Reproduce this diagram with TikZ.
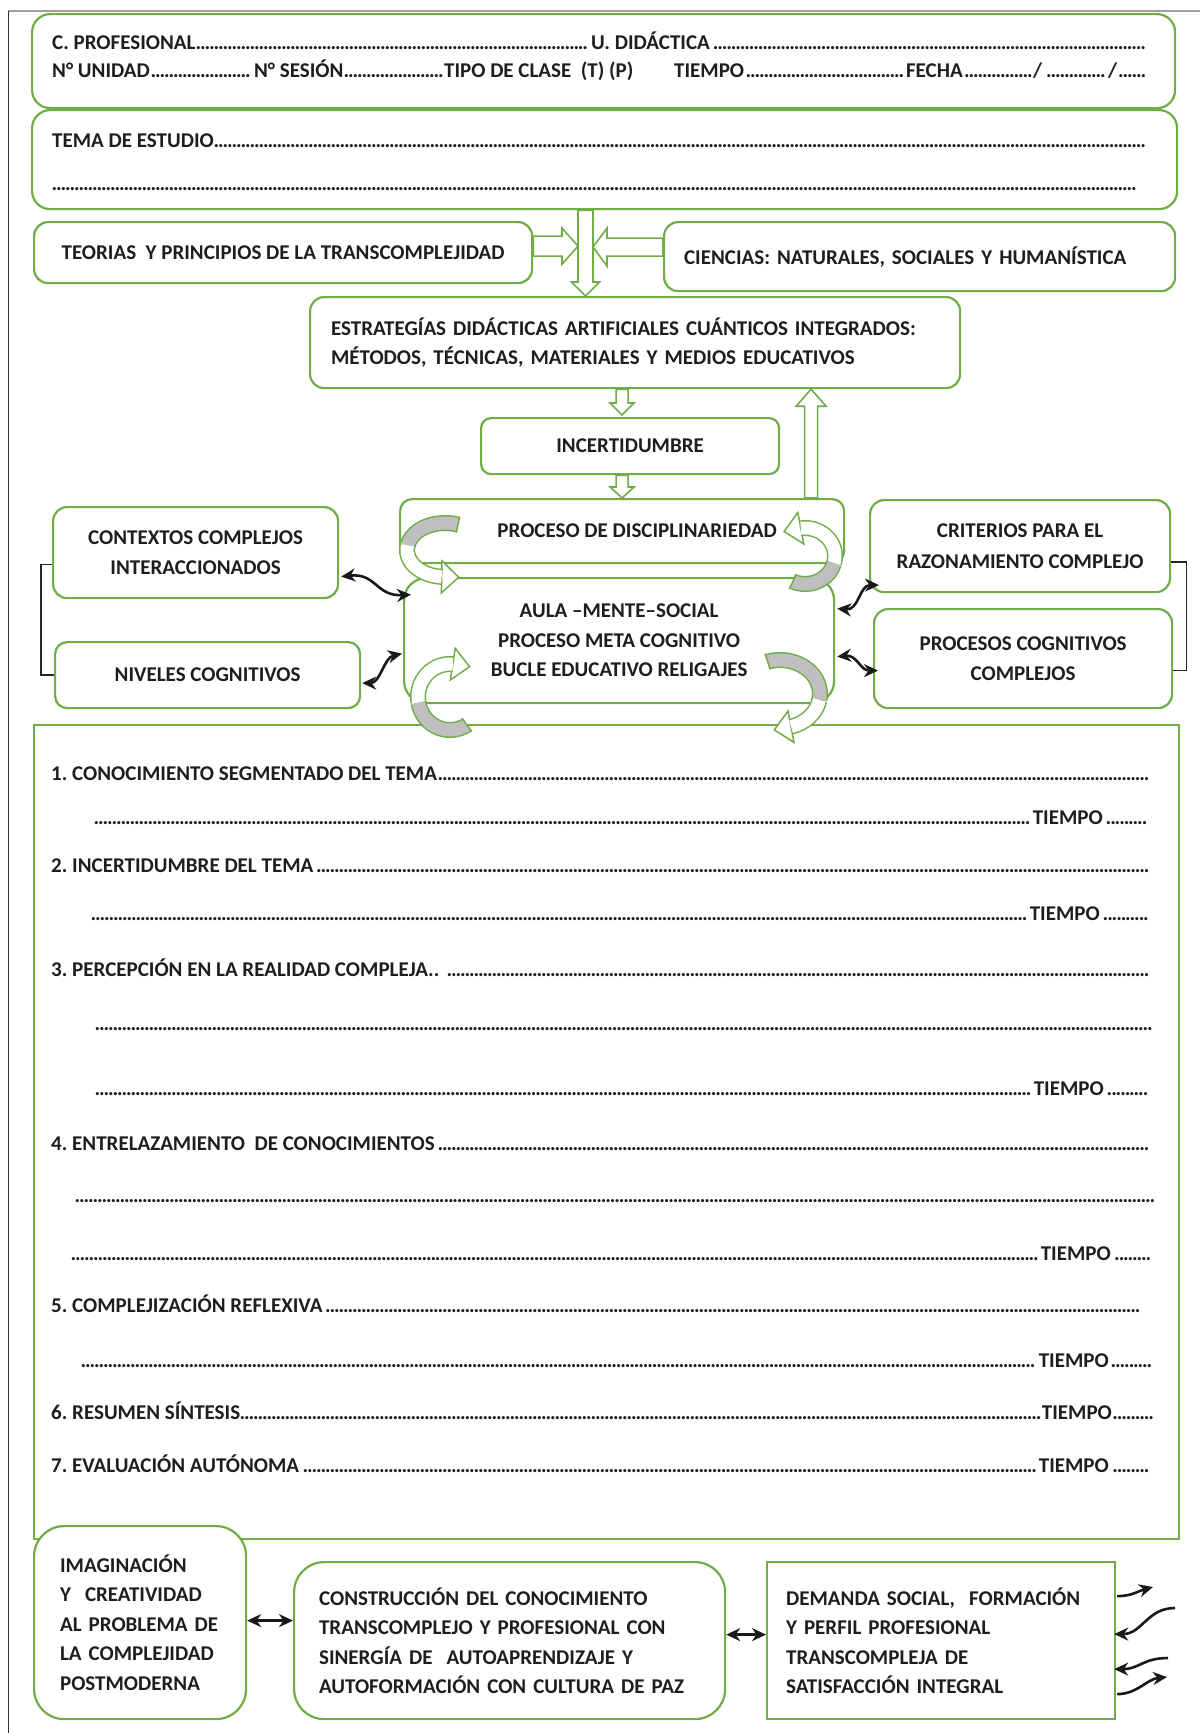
\documentclass[tikz,border=0pt]{standalone}
\usepackage{fontspec}
\setmainfont{Carlito}
\usetikzlibrary{calc,arrows.meta}
\definecolor{grn}{HTML}{70AD47}
\definecolor{txt}{HTML}{1E1E1E}
\definecolor{rgray}{HTML}{BFBFBF}
\frenchspacing
\newcommand\txtfont{\bfseries\fontsize{21}{29.5}\selectfont}
% dense dotted leader used on the form lines
\newcommand\dotlead{\leaders\hbox to 4.5pt{\hss.\hss}\hfill}
% hollow block arrow: start, end, shaft half width, head half width, head length
\newcommand\gbarrow[5]{%
  \coordinate (bH) at ($(#2)!#5pt!(#1)$);
  \draw[barrowst] ($(#1)!#3pt!90:(#2)$) -- ($(bH)!#3pt!90:(#2)$) -- ($(bH)!#4pt!90:(#2)$) -- (#2)
    -- ($(bH)!#4pt!-90:(#2)$) -- ($(bH)!#3pt!-90:(#2)$) -- ($(#1)!#3pt!-90:(#2)$) -- cycle;}
% curved ribbon in two parts: centre, rx, ry, start, switch, end, first fill, second fill
\newcommand\gribbon[8]{%
  \draw[rib, double=#7] ($(#1)+(#4:#2 and #3)$) arc[start angle=#4, end angle=#5, x radius=#2, y radius=#3];
  \draw[rib, double=#8] ($(#1)+(#5:#2 and #3)$) arc[start angle=#5, end angle=#6, x radius=#2, y radius=#3];}
% open head of a curved ribbon: centre, rx, ry, base angle, angle it points to
\newcommand\ghead[5]{%
  \coordinate (hE) at ($(#1)+(#4:#2 and #3)$);
  \coordinate (hF) at ($(#1)+(#5:#2 and #3)$);
  \draw[rhd] ($(hE)!16pt!90:(hF)$) -- ($(hE)!17pt!(hF)$) -- ($(hE)!16pt!-90:(hF)$) -- cycle;}
% flat closing edge of a ribbon end
\newcommand\gend[5]{%
  \coordinate (hE) at ($(#1)+(#4:#2 and #3)$);
  \coordinate (hF) at ($(#1)+(#5:#2 and #3)$);
  \draw[grn, line width=1.5pt] ($(hE)!8.2pt!90:(hF)$) -- ($(hE)!8.2pt!-90:(hF)$);}

\begin{document}
\begin{tikzpicture}[x=1pt, y=-1pt,
  every node/.style={font=\txtfont, text=txt},
  gbox/.style={draw=grn, line width=2.2pt, rounded corners=#1, fill=white, inner sep=0pt, anchor=north west},
  gbox/.default=14pt,
  txtline/.style={anchor=base west, inner sep=0pt},
  barrowst/.style={draw=grn, line width=1.6pt, fill=white, line join=miter},
  rib/.style={draw=grn, line width=1.5pt, double distance=13pt},
  rhd/.style={draw=grn, line width=1.5pt, fill=white, line join=miter},
  conn/.style={draw=black!90, line width=2.6pt},
  twohead/.style={{Stealth[length=14pt,width=13pt]}-{Stealth[length=14pt,width=13pt]}},
  onehead/.style={-{Stealth[length=14pt,width=13pt]}},
  brk/.style={draw=black!85, line width=1.3pt}]
\useasboundingbox (0,0) rectangle (1200,1733);

% page frame
\draw[gray!75, line width=2pt] (8,11) -- (1200,11);
\draw[black!80, line width=0.9pt] (8,11) -- (8,1733);

% header
\node[gbox=18pt, minimum width=1143pt, minimum height=94pt] (hdr) at (31,13) {};
\node[txtline] (h1) at (52,49) {\hbox to 1097pt{\hbox to 539pt{C. PROFESIONAL\dotlead}U. DIDÁCTICA\dotlead}};
\node[txtline] (h2) at (52,77) {\hbox to 1097pt{\hbox to 202pt{N° UNIDAD\dotlead}\hbox to 190pt{N° SESIÓN\dotlead}\hbox to 230pt{TIPO DE CLASE\ \ (T) (P)\hfil}\hbox to 232pt{TIEMPO\dotlead}\hbox to 127pt{FECHA\dotlead}\hbox to 75pt{/\dotlead}/\dotlead}};

\node[gbox=18pt, minimum width=1145pt, minimum height=99pt] (tema) at (31,109) {};
\node[txtline] (t1) at (52,147) {\hbox to 1097pt{TEMA DE ESTUDIO\dotlead}};
\node[txtline] (t2) at (52,190) {\hbox to 1086pt{\dotlead}};

% sources
\node[gbox, minimum width=498pt, minimum height=61pt] (teo) at (33,221) {TEORIAS\ \ Y PRINCIPIOS DE LA TRANSCOMPLEJIDAD};
\node[gbox, minimum width=511pt, minimum height=69pt, text width=471pt, align=left] (cien) at (663,221) {CIENCIAS: NATURALES, SOCIALES Y HUMANÍSTICA};

\node[gbox, minimum width=650pt, minimum height=91pt, text width=608pt, align=left] (estr) at (309,296)
  {\hbox to 606pt{ESTRATEGÍAS DIDÁCTICAS ARTIFICIALES CUÁNTICOS INTEGRADOS:}\\ MÉTODOS, TÉCNICAS, MATERIALES Y MEDIOS EDUCATIVOS};

\node[gbox=10pt, minimum width=298pt, minimum height=56pt] (inc) at (480,417) {INCERTIDUMBRE};

\node[gbox=12pt, minimum width=444pt, minimum height=64pt,
      label={[xshift=15pt]center:PROCESO DE DISCIPLINARIEDAD}] (proc) at (399,498) {};
\node[gbox=22pt, minimum width=430pt, minimum height=125pt, align=center] (aula) at (403,577)
  {AULA –MENTE–SOCIAL\\ PROCESO META COGNITIVO\\ BUCLE EDUCATIVO RELIGAJES};

% side boxes
\node[gbox, minimum width=285pt, minimum height=91pt, align=center] (ctx) at (52,506) {CONTEXTOS COMPLEJOS\\ INTERACCIONADOS};
\node[gbox=12pt, minimum width=305pt, minimum height=66pt] (niv) at (54,641) {NIVELES COGNITIVOS};
\node[gbox, minimum width=300pt, minimum height=92pt, align=center] (crit) at (869,499) {CRITERIOS PARA EL\\[1.5pt] RAZONAMIENTO COMPLEJO};
\node[gbox, minimum width=298pt, minimum height=99pt, align=center] (pcc) at (873,608) {PROCESOS COGNITIVOS\\ COMPLEJOS};

% brackets joining the side boxes
\draw[brk] ($(ctx.west)+(0,12)$) -- ++(-11,0) |- (niv.west);
\draw[brk] ($(crit.east)+(0,16)$) -- ++(15,0) |- ($(pcc.east)+(0,12)$);

% hollow block arrows
\coordinate (vx) at (585.5,0);
\coordinate (vs) at (vx |- tema.south);
\coordinate (ve) at (vx |- estr.north);
\gbarrow{vs}{ve}{7.5}{14}{14}
\coordinate (ls) at ($(teo.east)+(0,-6.5)$);
\coordinate (le) at ($(vx |- ls)+(-7.5,0)$);
\gbarrow{ls}{le}{10}{18}{16}
\coordinate (rs) at ($(cien.west)+(0,-9.5)$);
\coordinate (re) at ($(vx |- rs)+(7.5,0)$);
\gbarrow{rs}{re}{9}{19}{14}
\coordinate (d1s) at ($(estr.south)+(-13,0)$);
\coordinate (d1e) at ($(d1s |- inc.north)+(0,-2)$);
\gbarrow{d1s}{d1e}{6}{12}{12}
\coordinate (d2s) at (d1s |- inc.south);
\coordinate (d2e) at (d1s |- proc.north);
\gbarrow{d2s}{d2e}{6}{12}{11}
\coordinate (us) at ($(proc.north)+(189,0)$);
\coordinate (ue) at (us |- estr.south);
\gbarrow{us}{ue}{6.5}{15}{17}

% lesson steps
\node[draw=grn, line width=2.2pt, fill=white, anchor=north west, minimum width=1145pt, minimum height=814pt, inner sep=0pt] (big) at (33,724) {};
\node[txtline] (s1a) at (51,780) {\hbox to 1102pt{1. CONOCIMIENTO SEGMENTADO DEL TEMA\dotlead}};
\node[txtline] (s1b) at (94,824) {\hbox to 1055pt{\hbox to 939pt{\dotlead}TIEMPO\dotlead}};
\node[txtline] (s2a) at (51,872) {\hbox to 1098pt{2. INCERTIDUMBRE DEL TEMA\dotlead}};
\node[txtline] (s2b) at (91,920) {\hbox to 1058pt{\hbox to 939pt{\dotlead}TIEMPO\dotlead}};
\node[txtline] (s3a) at (51,976) {\hbox to 1102pt{3. PERCEPCIÓN EN LA REALIDAD COMPLEJA..\ \dotlead}};
\node[txtline] (s3b) at (95,1030) {\hbox to 1058pt{\dotlead}};
\node[txtline] (s3c) at (95,1095) {\hbox to 1054pt{\hbox to 939pt{\dotlead}TIEMPO\dotlead}};
\node[txtline] (s4a) at (51,1150) {\hbox to 1098pt{4. ENTRELAZAMIENTO\ \ DE CONOCIMIENTOS\dotlead}};
\node[txtline] (s4b) at (75,1202) {\hbox to 1080pt{\dotlead}};
\node[txtline] (s4c) at (71,1260) {\hbox to 1084pt{\hbox to 970pt{\dotlead}TIEMPO\dotlead}};
\node[txtline] (s5a) at (51,1312) {\hbox to 1093pt{5. COMPLEJIZACIÓN REFLEXIVA\dotlead}};
\node[txtline] (s5b) at (81,1367) {\hbox to 1074pt{\hbox to 958pt{\dotlead}TIEMPO\dotlead}};
\node[txtline] (s6) at (51,1419) {\hbox to 1104pt{\hbox to 991pt{6. RESUMEN SÍNTESIS\dotlead}TIEMPO\dotlead}};
\node[txtline] (s7) at (51,1472) {\hbox to 1098pt{\hbox to 988pt{7. EVALUACIÓN AUTÓNOMA\dotlead}TIEMPO\dotlead}};

% curved ribbons around the two central boxes
\coordinate (rTL) at (445,550);
\coordinate (rTR) at (805,556);
\coordinate (rBL) at (450,697);
\coordinate (rBR) at (780,694);
\ghead{rTL}{38}{27}{95}{88}
\gribbon{rTL}{38}{27}{290}{190}{95}{rgray}{white}
\gend{rTL}{38}{27}{290}{283}
\ghead{rTR}{30}{28}{262}{255}
\gribbon{rTR}{30}{28}{262}{375}{474}{white}{rgray}
\gend{rTR}{30}{28}{474}{481}
\ghead{rBL}{32}{33}{275}{282}
\gribbon{rBL}{32}{33}{275}{170}{58}{white}{rgray}
\gend{rBL}{32}{33}{58}{51}
\ghead{rBR}{40}{34}{434}{441}
\gribbon{rBR}{40}{34}{252}{370}{434}{rgray}{white}
\gend{rBR}{40}{34}{252}{245}

% links between the side boxes and the classroom box
\coordinate (c1a) at ($(ctx.east)+(2,24)$);
\coordinate (c1b) at ($(aula.west)+(8,-46)$);
\draw[conn, twohead] (c1a) .. controls +(35,-4) and +(-35,2) .. (c1b);
\coordinate (c2a) at ($(niv.east)+(1,8)$);
\coordinate (c2b) at ($(aula.west)+(-1,13)$);
\draw[conn, twohead] (c2a) .. controls +(18,0) and +(-18,4) .. (c2b);
\coordinate (c3a) at ($(aula.east)+(2,-32)$);
\coordinate (c3b) at ($(crit.west)+(10,39)$);
\draw[conn, twohead] (c3a) .. controls +(22,2) and +(-20,0) .. (c3b);
\coordinate (c4a) at ($(aula.east)+(2,16)$);
\coordinate (c4b) at ($(pcc.west)+(5,12)$);
\draw[conn, twohead] (c4a) .. controls +(20,-2) and +(-18,0) .. (c4b);

% closing boxes
\node[gbox=30pt, minimum width=212pt, minimum height=193pt, text width=160pt, align=left] (imag) at (33,1525)
  {IMAGINACIÓN\\ Y\ \ CREATIVIDAD\\ AL PROBLEMA DE\\ LA COMPLEJIDAD\\ POSTMODERNA};
\node[gbox=30pt, minimum width=431pt, minimum height=157pt, text width=381pt, align=left] (constr) at (293,1561)
  {CONSTRUCCIÓN DEL CONOCIMIENTO\\ TRANSCOMPLEJO Y PROFESIONAL CON\\ SINERGÍA DE\ \ AUTOAPRENDIZAJE Y\\ AUTOFORMACIÓN CON CULTURA DE PAZ};
\node[gbox=0pt, minimum width=348pt, minimum height=157pt, text width=310pt, align=left] (dem) at (766,1561)
  {DEMANDA SOCIAL,\ \ FORMACIÓN\\ Y PERFIL PROFESIONAL\\ TRANSCOMPLEJA DE\\ SATISFACCIÓN INTEGRAL\\[-8pt]};

\coordinate (b1) at ($(imag.east)+(0,-2)$);
\draw[conn, twohead] (b1) -- (b1 -| constr.west);
\coordinate (b2) at ($(constr.east)+(0,-6)$);
\draw[conn, twohead] (b2) -- (b2 -| dem.west);

% loose links leaving the last box
\coordinate (fr1) at (1153,1587);
\coordinate (fr2) at (1175,1608);
\coordinate (fr3) at (1168,1658);
\coordinate (fr4) at (1167,1677);
\draw[conn, onehead] ($(dem.east)+(1,-44.5)$) .. controls +(15,0) and +(-15,4) .. (fr1);
\draw[conn, onehead] (fr2) .. controls +(-28,0) and +(28,0) .. ($(dem.east)+(-2,-6.5)$);
\draw[conn, onehead] (fr3) .. controls +(-25,0) and +(25,0) .. ($(dem.east)+(-2,28.5)$);
\draw[conn, onehead] ($(dem.east)+(1,53.5)$) .. controls +(20,0) and +(-20,2) .. (fr4);
\end{tikzpicture}
\end{document}
